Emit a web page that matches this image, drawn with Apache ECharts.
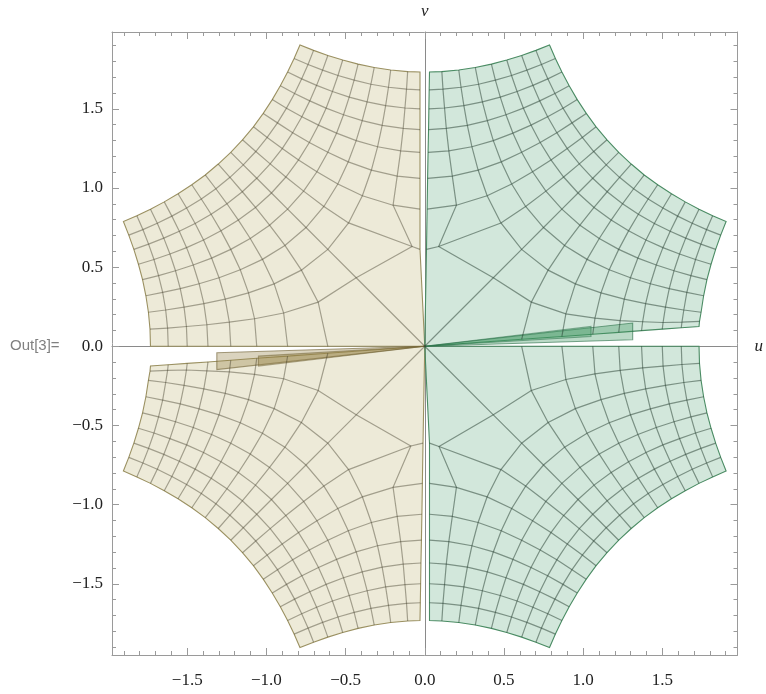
<!DOCTYPE html>
<html><head><meta charset="utf-8">
<script src="https://cdn.jsdelivr.net/npm/echarts@6.0.0/dist/echarts.min.js"></script>
<style>html,body{margin:0;padding:0;background:#fff}#c{width:766px;height:694px}</style>
</head><body><div id="c"></div>
<script>
const xTickValues = [-1.5,-1,-0.5,0,0.5,1,1.5];
const yTickValues = [-1.5,-1,-0.5,0,0.5,1,1.5];
const tickLabels = ['\u22121.5','\u22121.0','\u22120.5','0.0','0.5','1.0','1.5'];
const minorTickValues = [-1.9,-1.8,-1.7,-1.6,-1.4,-1.3,-1.2,-1.1,-0.9,-0.8,-0.7,-0.6,-0.4,-0.3,-0.2,-0.1,0.1,0.2,0.3,0.4,0.6,0.7,0.8,0.9,1.1,1.2,1.3,1.4,1.6,1.7,1.8,1.9];

// Mesh crossing points of each piece (9 rows x 17 points).
// Row 0 lies along the axes, row 8 is the outer concave edge.
const greenUpperRows = [
 [[0.030,1.732],[0.028,1.62],[0.026,1.5],[0.024,1.369],[0.021,1.225],[0.018,1.061],[0.015,0.866],[0.011,0.612],[0,0],[0.612,0.044],[0.866,0.062],[1.061,0.076],[1.225,0.088],[1.369,0.099],[1.5,0.108],[1.62,0.117],[1.732,0.125]],
 [[0.108,1.735],[0.115,1.624],[0.125,1.505],[0.136,1.376],[0.152,1.234],[0.174,1.075],[0.200,0.891],[0.088,0.630],[0.433,0.433],[0.673,0.279],[0.891,0.205],[1.075,0.178],[1.234,0.162],[1.376,0.155],[1.505,0.150],[1.624,0.152],[1.735,0.157]],
 [[0.215,1.745],[0.229,1.636],[0.247,1.520],[0.269,1.395],[0.298,1.260],[0.337,1.113],[0.394,0.951],[0.481,0.779],[0.612,0.612],[0.779,0.481],[0.951,0.394],[1.113,0.337],[1.260,0.298],[1.395,0.269],[1.520,0.247],[1.636,0.229],[1.745,0.215]],
 [[0.319,1.761],[0.340,1.655],[0.364,1.544],[0.395,1.425],[0.433,1.299],[0.483,1.165],[0.549,1.025],[0.637,0.883],[0.750,0.750],[0.883,0.637],[1.025,0.549],[1.165,0.483],[1.299,0.433],[1.425,0.395],[1.544,0.364],[1.655,0.340],[1.761,0.319]],
 [[0.421,1.782],[0.446,1.681],[0.477,1.574],[0.513,1.462],[0.557,1.346],[0.612,1.225],[0.681,1.102],[0.765,0.980],[0.866,0.866],[0.980,0.765],[1.102,0.681],[1.225,0.612],[1.346,0.557],[1.462,0.513],[1.574,0.477],[1.681,0.446],[1.782,0.421]],
 [[0.518,1.808],[0.548,1.710],[0.583,1.609],[0.623,1.504],[0.671,1.397],[0.729,1.287],[0.797,1.177],[0.877,1.069],[0.968,0.968],[1.069,0.877],[1.177,0.797],[1.287,0.729],[1.397,0.671],[1.504,0.623],[1.609,0.583],[1.710,0.548],[1.808,0.518]],
 [[0.612,1.837],[0.645,1.744],[0.683,1.648],[0.726,1.550],[0.776,1.450],[0.834,1.349],[0.900,1.249],[0.976,1.152],[1.061,1.061],[1.152,0.976],[1.249,0.900],[1.349,0.834],[1.450,0.776],[1.550,0.726],[1.648,0.683],[1.744,0.645],[1.837,0.612]],
 [[0.702,1.869],[0.737,1.780],[0.777,1.689],[0.822,1.597],[0.873,1.504],[0.930,1.411],[0.995,1.319],[1.067,1.230],[1.146,1.146],[1.230,1.067],[1.319,0.995],[1.411,0.930],[1.504,0.873],[1.597,0.822],[1.689,0.777],[1.780,0.737],[1.869,0.702]],
 [[0.788,1.903],[0.825,1.818],[0.866,1.732],[0.912,1.645],[0.963,1.558],[1.020,1.471],[1.082,1.386],[1.151,1.304],[1.225,1.225],[1.304,1.151],[1.386,1.082],[1.471,1.020],[1.558,0.963],[1.645,0.912],[1.732,0.866],[1.818,0.825],[1.903,0.788]]
];
const greenLowerRows = [
 [[0.030,-1.732],[0.030,-1.62],[0.030,-1.5],[0.030,-1.369],[0.030,-1.225],[0.030,-1.061],[0.030,-0.866],[0.030,-0.612],[0,0],[0.612,0],[0.866,0],[1.061,0],[1.225,0],[1.369,0],[1.5,0],[1.62,0],[1.732,0]],
 [[0.108,-1.735],[0.115,-1.624],[0.125,-1.505],[0.136,-1.376],[0.152,-1.234],[0.174,-1.075],[0.200,-0.891],[0.090,-0.633],[0.433,-0.433],[0.673,-0.279],[0.891,-0.210],[1.075,-0.174],[1.234,-0.152],[1.376,-0.136],[1.505,-0.125],[1.624,-0.115],[1.735,-0.108]],
 [[0.215,-1.745],[0.229,-1.636],[0.247,-1.520],[0.269,-1.395],[0.298,-1.260],[0.337,-1.113],[0.394,-0.951],[0.481,-0.779],[0.612,-0.612],[0.779,-0.481],[0.951,-0.394],[1.113,-0.337],[1.260,-0.298],[1.395,-0.269],[1.520,-0.247],[1.636,-0.229],[1.745,-0.215]],
 [[0.319,-1.761],[0.340,-1.655],[0.364,-1.544],[0.395,-1.425],[0.433,-1.299],[0.483,-1.165],[0.549,-1.025],[0.637,-0.883],[0.750,-0.750],[0.883,-0.637],[1.025,-0.549],[1.165,-0.483],[1.299,-0.433],[1.425,-0.395],[1.544,-0.364],[1.655,-0.340],[1.761,-0.319]],
 [[0.421,-1.782],[0.446,-1.681],[0.477,-1.574],[0.513,-1.462],[0.557,-1.346],[0.612,-1.225],[0.681,-1.102],[0.765,-0.980],[0.866,-0.866],[0.980,-0.765],[1.102,-0.681],[1.225,-0.612],[1.346,-0.557],[1.462,-0.513],[1.574,-0.477],[1.681,-0.446],[1.782,-0.421]],
 [[0.518,-1.808],[0.548,-1.710],[0.583,-1.609],[0.623,-1.504],[0.671,-1.397],[0.729,-1.287],[0.797,-1.177],[0.877,-1.069],[0.968,-0.968],[1.069,-0.877],[1.177,-0.797],[1.287,-0.729],[1.397,-0.671],[1.504,-0.623],[1.609,-0.583],[1.710,-0.548],[1.808,-0.518]],
 [[0.612,-1.837],[0.645,-1.744],[0.683,-1.648],[0.726,-1.550],[0.776,-1.450],[0.834,-1.349],[0.900,-1.249],[0.976,-1.152],[1.061,-1.061],[1.152,-0.976],[1.249,-0.900],[1.349,-0.834],[1.450,-0.776],[1.550,-0.726],[1.648,-0.683],[1.744,-0.645],[1.837,-0.612]],
 [[0.702,-1.869],[0.737,-1.780],[0.777,-1.689],[0.822,-1.597],[0.873,-1.504],[0.930,-1.411],[0.995,-1.319],[1.067,-1.230],[1.146,-1.146],[1.230,-1.067],[1.319,-0.995],[1.411,-0.930],[1.504,-0.873],[1.597,-0.822],[1.689,-0.777],[1.780,-0.737],[1.869,-0.702]],
 [[0.788,-1.903],[0.825,-1.818],[0.866,-1.732],[0.912,-1.645],[0.963,-1.558],[1.020,-1.471],[1.082,-1.386],[1.151,-1.304],[1.225,-1.225],[1.304,-1.151],[1.386,-1.082],[1.471,-1.020],[1.558,-0.963],[1.645,-0.912],[1.732,-0.866],[1.818,-0.825],[1.903,-0.788]]
];
const yellowUpperRows = [
 [[-0.030,1.732],[-0.030,1.62],[-0.030,1.5],[-0.030,1.369],[-0.030,1.225],[-0.030,1.061],[-0.030,0.866],[-0.030,0.612],[0,0],[-0.612,0],[-0.866,0],[-1.061,0],[-1.225,0],[-1.369,0],[-1.5,0],[-1.62,0],[-1.732,0]],
 [[-0.108,1.735],[-0.115,1.624],[-0.125,1.505],[-0.136,1.376],[-0.152,1.234],[-0.174,1.075],[-0.200,0.891],[-0.080,0.630],[-0.433,0.433],[-0.673,0.279],[-0.891,0.210],[-1.075,0.174],[-1.234,0.152],[-1.376,0.136],[-1.505,0.125],[-1.624,0.115],[-1.735,0.108]],
 [[-0.215,1.745],[-0.229,1.636],[-0.247,1.520],[-0.269,1.395],[-0.298,1.260],[-0.337,1.113],[-0.394,0.951],[-0.481,0.779],[-0.612,0.612],[-0.779,0.481],[-0.951,0.394],[-1.113,0.337],[-1.260,0.298],[-1.395,0.269],[-1.520,0.247],[-1.636,0.229],[-1.745,0.215]],
 [[-0.319,1.761],[-0.340,1.655],[-0.364,1.544],[-0.395,1.425],[-0.433,1.299],[-0.483,1.165],[-0.549,1.025],[-0.637,0.883],[-0.750,0.750],[-0.883,0.637],[-1.025,0.549],[-1.165,0.483],[-1.299,0.433],[-1.425,0.395],[-1.544,0.364],[-1.655,0.340],[-1.761,0.319]],
 [[-0.421,1.782],[-0.446,1.681],[-0.477,1.574],[-0.513,1.462],[-0.557,1.346],[-0.612,1.225],[-0.681,1.102],[-0.765,0.980],[-0.866,0.866],[-0.980,0.765],[-1.102,0.681],[-1.225,0.612],[-1.346,0.557],[-1.462,0.513],[-1.574,0.477],[-1.681,0.446],[-1.782,0.421]],
 [[-0.518,1.808],[-0.548,1.710],[-0.583,1.609],[-0.623,1.504],[-0.671,1.397],[-0.729,1.287],[-0.797,1.177],[-0.877,1.069],[-0.968,0.968],[-1.069,0.877],[-1.177,0.797],[-1.287,0.729],[-1.397,0.671],[-1.504,0.623],[-1.609,0.583],[-1.710,0.548],[-1.808,0.518]],
 [[-0.612,1.837],[-0.645,1.744],[-0.683,1.648],[-0.726,1.550],[-0.776,1.450],[-0.834,1.349],[-0.900,1.249],[-0.976,1.152],[-1.061,1.061],[-1.152,0.976],[-1.249,0.900],[-1.349,0.834],[-1.450,0.776],[-1.550,0.726],[-1.648,0.683],[-1.744,0.645],[-1.837,0.612]],
 [[-0.702,1.869],[-0.737,1.780],[-0.777,1.689],[-0.822,1.597],[-0.873,1.504],[-0.930,1.411],[-0.995,1.319],[-1.067,1.230],[-1.146,1.146],[-1.230,1.067],[-1.319,0.995],[-1.411,0.930],[-1.504,0.873],[-1.597,0.822],[-1.689,0.777],[-1.780,0.737],[-1.869,0.702]],
 [[-0.788,1.903],[-0.825,1.818],[-0.866,1.732],[-0.912,1.645],[-0.963,1.558],[-1.020,1.471],[-1.082,1.386],[-1.151,1.304],[-1.225,1.225],[-1.304,1.151],[-1.386,1.082],[-1.471,1.020],[-1.558,0.963],[-1.645,0.912],[-1.732,0.866],[-1.818,0.825],[-1.903,0.788]]
];
const yellowLowerRows = [
 [[-0.030,-1.732],[-0.028,-1.62],[-0.026,-1.5],[-0.024,-1.369],[-0.021,-1.225],[-0.018,-1.061],[-0.015,-0.866],[-0.011,-0.612],[0,0],[-0.612,-0.044],[-0.866,-0.062],[-1.061,-0.076],[-1.225,-0.088],[-1.369,-0.099],[-1.5,-0.108],[-1.62,-0.117],[-1.732,-0.125]],
 [[-0.108,-1.735],[-0.115,-1.624],[-0.125,-1.505],[-0.136,-1.376],[-0.152,-1.234],[-0.174,-1.075],[-0.200,-0.891],[-0.088,-0.630],[-0.433,-0.433],[-0.673,-0.279],[-0.891,-0.205],[-1.075,-0.178],[-1.234,-0.162],[-1.376,-0.155],[-1.505,-0.150],[-1.624,-0.152],[-1.735,-0.157]],
 [[-0.215,-1.745],[-0.229,-1.636],[-0.247,-1.520],[-0.269,-1.395],[-0.298,-1.260],[-0.337,-1.113],[-0.394,-0.951],[-0.481,-0.779],[-0.612,-0.612],[-0.779,-0.481],[-0.951,-0.394],[-1.113,-0.337],[-1.260,-0.298],[-1.395,-0.269],[-1.520,-0.247],[-1.636,-0.229],[-1.745,-0.215]],
 [[-0.319,-1.761],[-0.340,-1.655],[-0.364,-1.544],[-0.395,-1.425],[-0.433,-1.299],[-0.483,-1.165],[-0.549,-1.025],[-0.637,-0.883],[-0.750,-0.750],[-0.883,-0.637],[-1.025,-0.549],[-1.165,-0.483],[-1.299,-0.433],[-1.425,-0.395],[-1.544,-0.364],[-1.655,-0.340],[-1.761,-0.319]],
 [[-0.421,-1.782],[-0.446,-1.681],[-0.477,-1.574],[-0.513,-1.462],[-0.557,-1.346],[-0.612,-1.225],[-0.681,-1.102],[-0.765,-0.980],[-0.866,-0.866],[-0.980,-0.765],[-1.102,-0.681],[-1.225,-0.612],[-1.346,-0.557],[-1.462,-0.513],[-1.574,-0.477],[-1.681,-0.446],[-1.782,-0.421]],
 [[-0.518,-1.808],[-0.548,-1.710],[-0.583,-1.609],[-0.623,-1.504],[-0.671,-1.397],[-0.729,-1.287],[-0.797,-1.177],[-0.877,-1.069],[-0.968,-0.968],[-1.069,-0.877],[-1.177,-0.797],[-1.287,-0.729],[-1.397,-0.671],[-1.504,-0.623],[-1.609,-0.583],[-1.710,-0.548],[-1.808,-0.518]],
 [[-0.612,-1.837],[-0.645,-1.744],[-0.683,-1.648],[-0.726,-1.550],[-0.776,-1.450],[-0.834,-1.349],[-0.900,-1.249],[-0.976,-1.152],[-1.061,-1.061],[-1.152,-0.976],[-1.249,-0.900],[-1.349,-0.834],[-1.450,-0.776],[-1.550,-0.726],[-1.648,-0.683],[-1.744,-0.645],[-1.837,-0.612]],
 [[-0.702,-1.869],[-0.737,-1.780],[-0.777,-1.689],[-0.822,-1.597],[-0.873,-1.504],[-0.930,-1.411],[-0.995,-1.319],[-1.067,-1.230],[-1.146,-1.146],[-1.230,-1.067],[-1.319,-0.995],[-1.411,-0.930],[-1.504,-0.873],[-1.597,-0.822],[-1.689,-0.777],[-1.780,-0.737],[-1.869,-0.702]],
 [[-0.788,-1.903],[-0.825,-1.818],[-0.866,-1.732],[-0.912,-1.645],[-0.963,-1.558],[-1.020,-1.471],[-1.082,-1.386],[-1.151,-1.304],[-1.225,-1.225],[-1.304,-1.151],[-1.386,-1.082],[-1.471,-1.020],[-1.558,-0.963],[-1.645,-0.912],[-1.732,-0.866],[-1.818,-0.825],[-1.903,-0.788]]
];
// thin overlapping slivers next to the u axis
const sliverGreen = [[[0,0],[1.313,0.147],[1.313,0.041]],[[0,0],[1.05,0.125],[1.05,0.062]]];
const sliverYellow = [[[0,0],[-1.313,-0.147],[-1.313,-0.041]],[[0,0],[-1.05,-0.125],[-1.05,-0.062]]];

function outline(g){
  const pts=[]; const R=g.length-1, C=g[0].length-1;
  for (let j=0;j<=C;j++) pts.push(g[0][j]);
  for (let i=1;i<=R;i++) pts.push(g[i][C]);
  for (let j=C-1;j>=0;j--) pts.push(g[R][j]);
  for (let i=R-1;i>=1;i--) pts.push(g[i][0]);
  return pts;
}
function mesh(g){
  const out=[]; const R=g.length-1, C=g[0].length-1;
  for (let i=1;i<R;i++) out.push({coords:g[i]});
  for (let j=1;j<C;j++) out.push({coords:g.map(r=>r[j])});
  return out;
}
const GREEN_FILL='rgba(95,170,125,0.28)', GREEN_EDGE='rgb(75,140,100)';
const YEL_FILL='rgba(190,180,115,0.28)', YEL_EDGE='rgb(155,145,98)';
const regions = [
  {pts: outline(yellowUpperRows), fill:YEL_FILL, stroke:YEL_EDGE},
  {pts: outline(yellowLowerRows), fill:YEL_FILL, stroke:YEL_EDGE},
  {pts: outline(greenUpperRows), fill:GREEN_FILL, stroke:GREEN_EDGE},
  {pts: outline(greenLowerRows), fill:GREEN_FILL, stroke:GREEN_EDGE},
  {pts: sliverGreen[0], fill:'rgba(60,150,95,0.35)', stroke:'rgba(40,110,70,0.6)'},
  {pts: sliverGreen[1], fill:'rgba(60,150,95,0.35)', stroke:'rgba(40,110,70,0.5)'},
  {pts: sliverYellow[0], fill:'rgba(150,130,70,0.35)', stroke:'rgba(110,95,50,0.6)'},
  {pts: sliverYellow[1], fill:'rgba(150,130,70,0.35)', stroke:'rgba(110,95,50,0.5)'}
];
const XMIN=-1.975, XMAX=1.975, YMIN=-1.95, YMAX=1.985;
const FRAME='#9a9a9a';
const labelFmt = v => { const i = xTickValues.indexOf(v); return i>=0 ? tickLabels[i] : ''; };
const labelFont = {fontFamily:'Liberation Serif', fontSize:17, color:'#222'};
function frameAxis(pos, isX, major){
  const a = {type:'value', position:pos, min: isX?XMIN:YMIN, max: isX?XMAX:YMAX,
    axisLine:{show: major, onZero:false, lineStyle:{color:FRAME, width:1}},
    axisTick:{show:true, inside:true, length: major?7:4, customValues: major?(isX?xTickValues:yTickValues):minorTickValues, lineStyle:{color:FRAME, width:1}},
    axisLabel:{show:false}, splitLine:{show:false}};
  if (major && (pos==='bottom' || pos==='left')) {
    a.axisLabel = Object.assign({show:true, customValues: isX?xTickValues:yTickValues, formatter: labelFmt, margin: isX?17:9}, labelFont);
  }
  return a;
}
const chart = echarts.init(document.getElementById('c'), null, {renderer:'canvas'});
chart.setOption({
  animation:false,
  grid:{left:112, right:24, top:32, bottom:39, containLabel:false},
  xAxis:[
    frameAxis('bottom', true, true), frameAxis('bottom', true, false),
    frameAxis('top', true, true), frameAxis('top', true, false),
    {type:'value', min:XMIN, max:XMAX, axisLine:{onZero:true, lineStyle:{color:'#8a8a8a', width:1}}, axisTick:{show:false}, axisLabel:{show:false}, splitLine:{show:false},
     name:'u', nameLocation:'end', nameGap:17, nameTextStyle:{fontFamily:'Liberation Serif', fontStyle:'italic', fontSize:17, color:'#222'}}
  ],
  yAxis:[
    frameAxis('left', false, true), frameAxis('left', false, false),
    frameAxis('right', false, true), frameAxis('right', false, false),
    {type:'value', min:YMIN, max:YMAX, axisLine:{onZero:true, lineStyle:{color:'#8a8a8a', width:1}}, axisTick:{show:false}, axisLabel:{show:false}, splitLine:{show:false},
     name:'v', nameLocation:'end', nameGap:12, nameTextStyle:{fontFamily:'Liberation Serif', fontStyle:'italic', fontSize:17, color:'#222'}}
  ],
  graphic:[{type:'text', left:10, top:338, style:{text:'Out[3]=', fill:'#808080', font:'15px "Liberation Sans"'}}],
  series:[
    {type:'custom', coordinateSystem:'cartesian2d', silent:true, z:2,
     data: regions.map(()=>[0,0]),
     renderItem:(params, api)=>{ const r = regions[params.dataIndex];
       return {type:'polygon', shape:{points: r.pts.map(p=>api.coord(p))}, style:{fill:r.fill, stroke:r.stroke, lineWidth:1.1}}; }},
    {type:'lines', coordinateSystem:'cartesian2d', polyline:true, silent:true, z:3,
     data: [].concat(mesh(greenUpperRows), mesh(greenLowerRows)),
     lineStyle:{color:'rgba(35,60,45,0.5)', width:1.2, opacity:1}},
    {type:'lines', coordinateSystem:'cartesian2d', polyline:true, silent:true, z:3,
     data: [].concat(mesh(yellowUpperRows), mesh(yellowLowerRows)),
     lineStyle:{color:'rgba(60,55,35,0.42)', width:1.2, opacity:1}}
  ]
});
</script></body></html>
